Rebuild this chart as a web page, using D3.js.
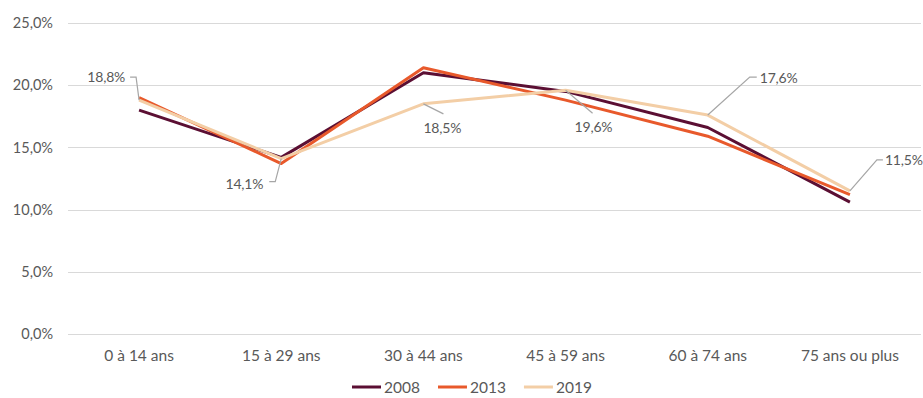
<!DOCTYPE html>
<html>
<head>
<meta charset="utf-8">
<script src="https://cdn.jsdelivr.net/npm/d3@7"></script>
<style>
  html, body { margin: 0; padding: 0; background: #fff; }
  svg text { font-family: Lato, "Open Sans", sans-serif; fill: #595959; }
</style>
</head>
<body>
<svg id="chart" width="923" height="398"></svg>
<script>
// Age groups and share of population per survey year (%)
const categories = ["0 à 14 ans", "15 à 29 ans", "30 à 44 ans", "45 à 59 ans", "60 à 74 ans", "75 ans ou plus"];
const years = ["2008", "2013", "2019"];
const values2008 = [18.0, 14.2, 21.0, 19.5, 16.6, 10.6];
const values2013 = [19.0, 13.7, 21.4, 18.8, 15.9, 11.2];
const values2019 = [18.8, 14.1, 18.5, 19.6, 17.6, 11.5];
const yTicks = [0, 5, 10, 15, 20, 25];
const colors = ["#5b0f33", "#e8592b", "#f3cea6"];

const series = [values2008, values2013, values2019].map((vals, i) => ({
  year: years[i], color: colors[i], values: vals
}));

const svg = d3.select("#chart");
const margin = { left: 68, right: 2, top: 23, bottom: 64 };
const W = 923, H = 398;

const x = d3.scaleBand().domain(categories).range([margin.left, W - margin.right]);
const y = d3.scaleLinear().domain([0, 25]).range([H - margin.bottom, margin.top]);
const fmt = v => d3.format(".1f")(v).replace(".", ",") + "%";

// Horizontal gridlines
svg.append("g").selectAll("line").data(yTicks).join("line")
  .attr("x1", margin.left).attr("x2", W - margin.right)
  .attr("y1", d => Math.round(y(d)) + 0.5).attr("y2", d => Math.round(y(d)) + 0.5)
  .attr("stroke", "#d9d9d9").attr("stroke-width", 1);

// Y axis labels
const yAxis = d3.axisLeft(y).tickValues(yTicks).tickFormat(fmt).tickSize(0).tickPadding(15);
svg.append("g").attr("transform", `translate(${margin.left},0)`).call(yAxis)
  .call(g => g.select(".domain").remove())
  .call(g => g.selectAll("text").style("font-size", "14.5px").attr("fill", "#595959"));

// X axis labels
const xAxis = d3.axisBottom(x).tickSize(0).tickPadding(16);
svg.append("g").attr("transform", `translate(0,${y(0)})`).call(xAxis)
  .call(g => g.select(".domain").remove())
  .call(g => g.selectAll("text").style("font-size", "15.5px").attr("fill", "#595959"));

const cx = c => x(c) + x.bandwidth() / 2;
const line = d3.line().x((d, i) => cx(categories[i])).y(d => y(d));

svg.append("g").selectAll("path").data(series).join("path")
  .attr("d", d => line(d.values))
  .attr("fill", "none")
  .attr("stroke", d => d.color)
  .attr("stroke-width", 3)
  .attr("stroke-linejoin", "round");

// Callout labels for 2019 with leader lines (offsets relative to the data point)
const callouts = [
  { i: 0, leader: [[0, 0], [-3, -23], [-9, -23]], text: [-14, -18], anchor: "end" },
  { i: 1, leader: [[0, 0], [-6, 23], [-12, 23]], text: [-18, 30], anchor: "end" },
  { i: 2, leader: [[0, 0], [20, 10]], text: [0, 29], anchor: "start" },
  { i: 3, leader: [[0, 0], [27, 23]], text: [9, 42], anchor: "start" },
  { i: 4, leader: [[0, 0], [42, -38], [49, -38]], text: [52, -32], anchor: "start" },
  { i: 5, leader: [[0, 0], [27, -31], [33, -31]], text: [35, -26], anchor: "start" }
];
const g = svg.append("g");
callouts.forEach(c => {
  const px = cx(categories[c.i]), py = y(values2019[c.i]);
  g.append("path")
    .attr("d", d3.line()(c.leader.map(p => [px + p[0], py + p[1]])))
    .attr("fill", "none").attr("stroke", "#a6a6a6").attr("stroke-width", 1.2);
  g.append("text")
    .attr("x", px + c.text[0]).attr("y", py + c.text[1])
    .attr("text-anchor", c.anchor)
    .style("font-size", "14px")
    .style("letter-spacing", "-0.2px")
    .text(fmt(values2019[c.i]));
});

// Legend
const legend = svg.append("g").attr("transform", "translate(352,387)");
let lx = 0;
series.forEach(s => {
  legend.append("line").attr("x1", lx).attr("x2", lx + 29).attr("y1", 0).attr("y2", 0)
    .attr("stroke", s.color).attr("stroke-width", 3);
  const t = legend.append("text").attr("x", lx + 32).attr("y", 5.5)
    .style("font-size", "15.5px").text(s.year);
  lx += 32 + t.node().getComputedTextLength() + 18;
});
</script>
</body>
</html>
